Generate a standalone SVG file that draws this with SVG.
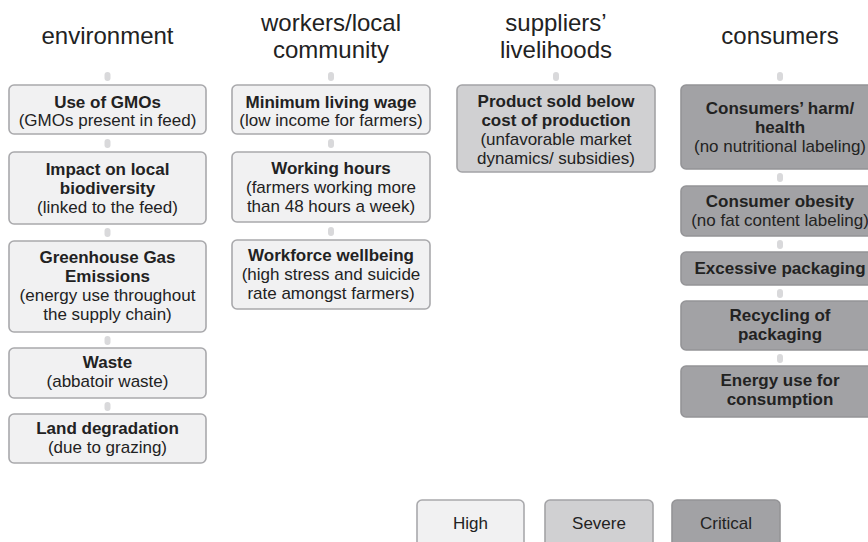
<svg xmlns="http://www.w3.org/2000/svg" width="868" height="542" viewBox="0 0 868 542">
<style>
text{font-family:"Liberation Sans",Arial,sans-serif;fill:#222;text-anchor:middle}
.h{font-size:24px}
.t{font-size:17px}
.b{font-weight:bold}
.high{fill:#f1f1f2;stroke:#a9a9ac;stroke-width:1.6}
.sev{fill:#d0d0d2;stroke:#a3a3a6;stroke-width:1.6}
.crit{fill:#a2a2a5;stroke:#949497;stroke-width:1.6}
.stub{fill:#d9d9db}
</style>
<rect width="868" height="542" fill="#fff"/>
<g id="headings">
<text class="h" x="107.5" y="44">environment</text>
<text class="h" x="331" y="31">workers/local</text>
<text class="h" x="331" y="58">community</text>
<text class="h" x="556" y="31">suppliers’</text>
<text class="h" x="556" y="58">livelihoods</text>
<text class="h" x="780" y="44">consumers</text>
</g>
<g id="connectors">
<rect class="stub" x="104.5" y="72" width="6" height="9" rx="3"/>
<rect class="stub" x="104.5" y="139" width="6" height="9" rx="3"/>
<rect class="stub" x="104.5" y="228" width="6" height="9" rx="3"/>
<rect class="stub" x="104.5" y="336" width="6" height="9" rx="3"/>
<rect class="stub" x="104.5" y="402" width="6" height="9" rx="3"/>
<rect class="stub" x="328" y="72" width="6" height="9" rx="3"/>
<rect class="stub" x="328" y="139" width="6" height="9" rx="3"/>
<rect class="stub" x="328" y="227" width="6" height="9" rx="3"/>
<rect class="stub" x="553" y="72" width="6" height="9" rx="3"/>
<rect class="stub" x="777" y="72" width="6" height="9" rx="3"/>
<rect class="stub" x="777" y="173" width="6" height="9" rx="3"/>
<rect class="stub" x="777" y="240" width="6" height="9" rx="3"/>
<rect class="stub" x="777" y="289" width="6" height="9" rx="3"/>
<rect class="stub" x="777" y="354" width="6" height="9" rx="3"/>
</g>
<g id="env-gmo">
<rect class="high" x="9" y="85" width="197" height="49" rx="5"/>
<text class="t b" x="107.5" y="108">Use of GMOs</text>
<text class="t" x="107.5" y="126">(GMOs present in feed)</text>
</g>
<g id="env-biodiversity">
<rect class="high" x="9" y="152" width="197" height="72" rx="5"/>
<text class="t b" x="107.5" y="175">Impact on local</text>
<text class="t b" x="107.5" y="194">biodiversity</text>
<text class="t" x="107.5" y="213">(linked to the feed)</text>
</g>
<g id="env-ghg">
<rect class="high" x="9" y="241" width="197" height="91" rx="5"/>
<text class="t b" x="107.5" y="263">Greenhouse Gas</text>
<text class="t b" x="107.5" y="282">Emissions</text>
<text class="t" x="107.5" y="301">(energy use throughout</text>
<text class="t" x="107.5" y="320">the supply chain)</text>
</g>
<g id="env-waste">
<rect class="high" x="9" y="348" width="197" height="50" rx="5"/>
<text class="t b" x="107.5" y="368">Waste</text>
<text class="t" x="107.5" y="387">(abbatoir waste)</text>
</g>
<g id="env-land">
<rect class="high" x="9" y="414" width="197" height="49" rx="5"/>
<text class="t b" x="107.5" y="434">Land degradation</text>
<text class="t" x="107.5" y="453">(due to grazing)</text>
</g>
<g id="wk-wage">
<rect class="high" x="232" y="85" width="198" height="49" rx="5"/>
<text class="t b" x="331" y="108">Minimum living wage</text>
<text class="t" x="331" y="126">(low income for farmers)</text>
</g>
<g id="wk-hours">
<rect class="high" x="232" y="152" width="198" height="70" rx="5"/>
<text class="t b" x="331" y="174">Working hours</text>
<text class="t" x="331" y="193">(farmers working more</text>
<text class="t" x="331" y="212">than 48 hours a week)</text>
</g>
<g id="wk-wellbeing">
<rect class="high" x="232" y="240" width="198" height="69" rx="5"/>
<text class="t b" x="331" y="261">Workforce wellbeing</text>
<text class="t" x="331" y="280">(high stress and suicide</text>
<text class="t" x="331" y="299">rate amongst farmers)</text>
</g>
<g id="sup-below-cost">
<rect class="sev" x="457" y="85" width="198" height="87" rx="5"/>
<text class="t b" x="556" y="107">Product sold below</text>
<text class="t b" x="556" y="126">cost of production</text>
<text class="t" x="556" y="145">(unfavorable market</text>
<text class="t" x="556" y="164">dynamics/ subsidies)</text>
</g>
<g id="con-harm">
<rect class="crit" x="681" y="85" width="198" height="84" rx="5"/>
<text class="t b" x="780" y="114">Consumers’ harm/</text>
<text class="t b" x="780" y="133">health</text>
<text class="t" x="780" y="152">(no nutritional labeling)</text>
</g>
<g id="con-obesity">
<rect class="crit" x="681" y="186" width="198" height="50" rx="5"/>
<text class="t b" x="780" y="207">Consumer obesity</text>
<text class="t" x="780" y="226">(no fat content labeling)</text>
</g>
<g id="con-packaging">
<rect class="crit" x="681" y="252" width="198" height="33" rx="5"/>
<text class="t b" x="780" y="274">Excessive packaging</text>
</g>
<g id="con-recycling">
<rect class="crit" x="681" y="301" width="198" height="49" rx="5"/>
<text class="t b" x="780" y="321">Recycling of</text>
<text class="t b" x="780" y="340">packaging</text>
</g>
<g id="con-energy">
<rect class="crit" x="681" y="366" width="198" height="51" rx="5"/>
<text class="t b" x="780" y="386">Energy use for</text>
<text class="t b" x="780" y="405">consumption</text>
</g>
<g id="legend-high">
<rect class="high" x="417" y="500" width="107" height="48" rx="5"/>
<text class="t" x="470.5" y="529">High</text>
</g>
<g id="legend-severe">
<rect class="sev" x="545" y="500" width="108" height="48" rx="5"/>
<text class="t" x="599" y="529">Severe</text>
</g>
<g id="legend-critical">
<rect class="crit" x="672" y="500" width="108" height="48" rx="5"/>
<text class="t" x="726" y="529">Critical</text>
</g>
</svg>
